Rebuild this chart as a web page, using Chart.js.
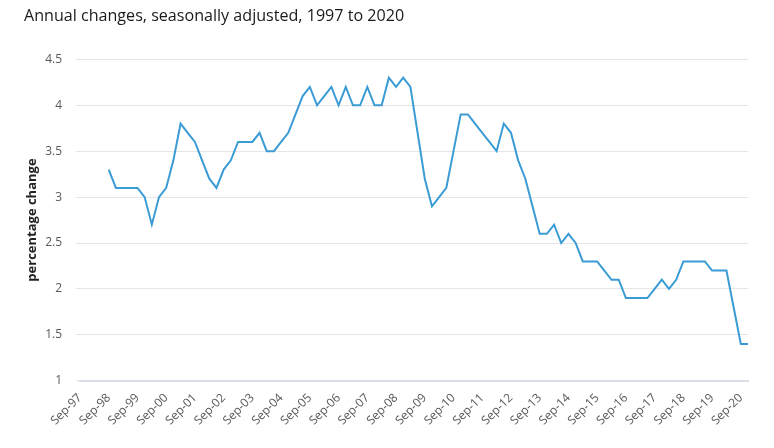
<!DOCTYPE html>
<html>
<head>
<meta charset="utf-8">
<script src="https://cdn.jsdelivr.net/npm/chart.js@4"></script>
<style>
  html, body { margin: 0; padding: 0; background: #fff; }
  #wrap { width: 774px; height: 448px; }
</style>
</head>
<body>
<div id="wrap"><canvas id="lineChart" width="774" height="448"></canvas></div>
<script>
// quarters from Sep-97 to Dec-20
const months = ['Sep', 'Dec', 'Mar', 'Jun'];
const firstYear = 1997;
const quarters = [];
for (let i = 0; i < 94; i++) {
  const m = months[i % 4];
  const y = firstYear + Math.floor((i + 2) / 4);
  quarters.push(m + '-' + String(y % 100).padStart(2, '0'));
}

// annual % change, starts Sep-98
const annualChange = [
  null, null, null, null,
  3.3, 3.1, 3.1, 3.1, 3.1, 3.0, 2.7, 3.0,
  3.1, 3.4, 3.8, 3.7, 3.6, 3.4, 3.2, 3.1,
  3.3, 3.4, 3.6, 3.6, 3.6, 3.7, 3.5, 3.5,
  3.6, 3.7, 3.9, 4.1, 4.2, 4.0, 4.1, 4.2,
  4.0, 4.2, 4.0, 4.0, 4.2, 4.0, 4.0, 4.3,
  4.2, 4.3, 4.2, 3.7, 3.2, 2.9, 3.0, 3.1,
  3.5, 3.9, 3.9, 3.8, 3.7, 3.6, 3.5, 3.8,
  3.7, 3.4, 3.2, 2.9, 2.6, 2.6, 2.7, 2.5,
  2.6, 2.5, 2.3, 2.3, 2.3, 2.2, 2.1, 2.1,
  1.9, 1.9, 1.9, 1.9, 2.0, 2.1, 2.0, 2.1,
  2.3, 2.3, 2.3, 2.3, 2.2, 2.2, 2.2, 1.8,
  1.4, 1.4
];

const yTicks = [1, 1.5, 2, 2.5, 3, 3.5, 4, 4.5];

Chart.defaults.font.family = '"Open Sans", "Noto Sans", sans-serif';

const ctx = document.getElementById('lineChart').getContext('2d');
new Chart(ctx, {
  type: 'line',
  data: {
    labels: quarters,
    datasets: [{
      label: 'Annual change',
      data: annualChange,
      borderColor: '#3a9bd5',
      borderWidth: 2,
      pointRadius: 0,
      tension: 0,
      fill: false
    }]
  },
  options: {
    responsive: false,
    animation: false,
    layout: { padding: { left: 24, right: 26, bottom: 18, top: 0 } },
    plugins: {
      legend: { display: false },
      tooltip: { enabled: false },
      title: {
        display: true,
        text: 'Annual changes, seasonally adjusted, 1997 to 2020',
        align: 'start',
        color: '#1a1a1a',
        font: { size: 16.1, weight: 'normal' },
        padding: { top: 7, bottom: 33 }
      }
    },
    scales: {
      x: {
        grid: { display: false },
        border: { display: true, color: '#d9dee8', width: 2 },
        // let the first rotated label hang left of the plot
        afterFit: s => { s.paddingLeft = 0; },
        ticks: {
          autoSkip: false,
          maxRotation: 45,
          minRotation: 45,
          color: '#595959',
          font: { size: 12 },
          padding: 2,
          callback: (v, i) => (i % 4 === 0 ? quarters[i] : null)
        }
      },
      y: {
        min: yTicks[0],
        max: yTicks[yTicks.length - 1],
        afterBuildTicks: axis => { axis.ticks = yTicks.map(v => ({ value: v })); },
        afterFit: s => { s.width = 56; },
        grid: { color: '#e6e6e6', drawTicks: true, tickLength: 4 },
        border: { display: false },
        ticks: {
          color: '#595959',
          font: { size: 12 },
          padding: 14,
          callback: v => String(v)
        },
        title: {
          display: true,
          text: 'percentage change',
          color: '#222',
          font: { size: 13, weight: 'bold' },
          padding: { top: 0, bottom: 4 }
        }
      }
    }
  }
});
</script>
</body>
</html>
